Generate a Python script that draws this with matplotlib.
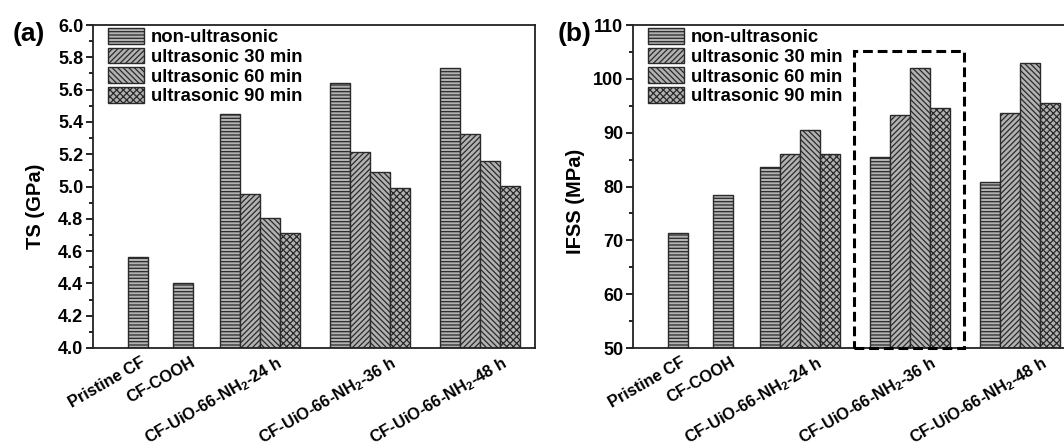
import matplotlib
matplotlib.use("Agg")
import matplotlib.pyplot as plt
import matplotlib.transforms as mtrans
from matplotlib.patches import Rectangle
from matplotlib.ticker import MultipleLocator, FormatStrFormatter

plt.rcParams['font.family'] = ['Liberation Sans', 'DejaVu Sans']
plt.rcParams['font.weight'] = 'bold'
plt.rcParams['mathtext.fontset'] = 'custom'
plt.rcParams['mathtext.rm'] = 'Liberation Sans:bold'
plt.rcParams['mathtext.it'] = 'Liberation Sans:bold'
plt.rcParams['mathtext.bf'] = 'Liberation Sans:bold'
plt.rcParams['hatch.linewidth'] = 0.9

# ---------------- data ----------------
categories = ['Pristine CF', 'CF-COOH',
              'CF-UiO-66-NH$_2$-24 h', 'CF-UiO-66-NH$_2$-36 h', 'CF-UiO-66-NH$_2$-48 h']
series = ['non-ultrasonic', 'ultrasonic 30 min', 'ultrasonic 60 min', 'ultrasonic 90 min']

# single-bar categories (Pristine CF, CF-COOH)
ts_single = [4.565, 4.40]
ifss_single = [71.4, 78.4]

# grouped categories (24 h, 36 h, 48 h), one list per series
ts_non = [5.447, 5.638, 5.735]
ts_30 = [4.955, 5.216, 5.328]
ts_60 = [4.805, 5.092, 5.155]
ts_90 = [4.710, 4.990, 5.005]

ifss_non = [83.6, 85.4, 80.8]
ifss_30 = [86.0, 93.3, 93.6]
ifss_60 = [90.5, 102.1, 103.0]
ifss_90 = [86.1, 94.5, 95.6]

# ---------------- layout / style ----------------
centers = [2.27, 4.49, 8.35, 13.85, 19.35]   # category centres in bar-width units
label_shift_px = [2, 7, 16, 20, 21]          # horizontal nudge of each rotated label
xlim = (0, 22.1)
hatches = ['-----', '//////', '\\\\\\\\\\\\', 'xxxxx']
face = '#b2b2b2'
edge = '#2a2a2a'

W, H = 1064, 442
fig = plt.figure(figsize=(W / 100, H / 100), dpi=100)
ax_w, ax_h = 442 / W, 323 / H
ax_b = (H - 348) / H
axA = fig.add_axes([93 / W, ax_b, ax_w, ax_h])
axB = fig.add_axes([633 / W, ax_b, ax_w, ax_h])


def draw(ax, single, groups, ylim, major, minor, ylabel, panel, panel_x, ylab_y):
    for i, v in enumerate(single):
        ax.bar(centers[i], v - ylim[0], bottom=ylim[0], width=1.0, color=face,
               edgecolor=edge, linewidth=1.0, hatch=hatches[0])
    for s, vals in enumerate(groups):
        xs = [centers[2 + g] + (s - 1.5) for g in range(len(vals))]
        ax.bar(xs, [v - ylim[0] for v in vals], bottom=ylim[0], width=1.0,
               color=face, edgecolor=edge, linewidth=1.0, hatch=hatches[s],
               label=series[s])
    ax.set_xlim(*xlim)
    ax.set_ylim(*ylim)
    ax.yaxis.set_major_locator(MultipleLocator(major))
    ax.yaxis.set_minor_locator(MultipleLocator(minor))
    ax.tick_params(axis='y', which='major', length=5, width=1.2, direction='out',
                   labelsize=13, pad=2)
    ax.tick_params(axis='y', which='minor', length=3, width=1.2, direction='out')
    ax.tick_params(axis='x', length=0, pad=1)
    ax.set_xticks(centers)
    ax.set_xticklabels(categories, rotation=30, ha='right', rotation_mode='anchor',
                       fontsize=11.8, fontweight='bold')
    for lab, dx in zip(ax.get_xticklabels(), label_shift_px):
        lab.set_transform(lab.get_transform() +
                          mtrans.ScaledTranslation(dx / 100, -5 / 100, fig.dpi_scale_trans))
    for sp in ax.spines.values():
        sp.set_linewidth(1.3)
        sp.set_color('#222222')
    ax.set_ylabel(ylabel, fontsize=14.5, fontweight='bold')
    ax.yaxis.set_label_coords(-0.108, ylab_y)
    ax.text(panel_x, 0.972, panel, transform=ax.transAxes,
            fontsize=19, fontweight='bold', ha='right', va='center')
    ax.legend(loc='upper left', bbox_to_anchor=(0.033, 0.99), frameon=False,
              fontsize=13.3, handlelength=1.95, handleheight=0.92,
              handletextpad=0.4, labelspacing=0.08, borderpad=0,
              borderaxespad=0)
    return ax


draw(axA, ts_single, [ts_non, ts_30, ts_60, ts_90], (4.0, 6.0), 0.2, 0.1,
     'TS (GPa)', '(a)', -0.109, 0.44)
draw(axB, ifss_single, [ifss_non, ifss_30, ifss_60, ifss_90], (50, 110), 10, 5,
     'IFSS (MPa)', '(b)', -0.093, 0.455)
axA.yaxis.set_major_formatter(FormatStrFormatter('%.1f'))

# dashed highlight box around the 36 h group in panel (b)
rect = Rectangle((centers[3] - 2.78, 50.0), 5.5, 55.2, fill=False, edgecolor='black',
                 linewidth=2.2, linestyle=(0, (3.2, 1.6)), zorder=5, clip_on=False)
axB.add_patch(rect)

fig.savefig('out.png', dpi=100, facecolor='white')
